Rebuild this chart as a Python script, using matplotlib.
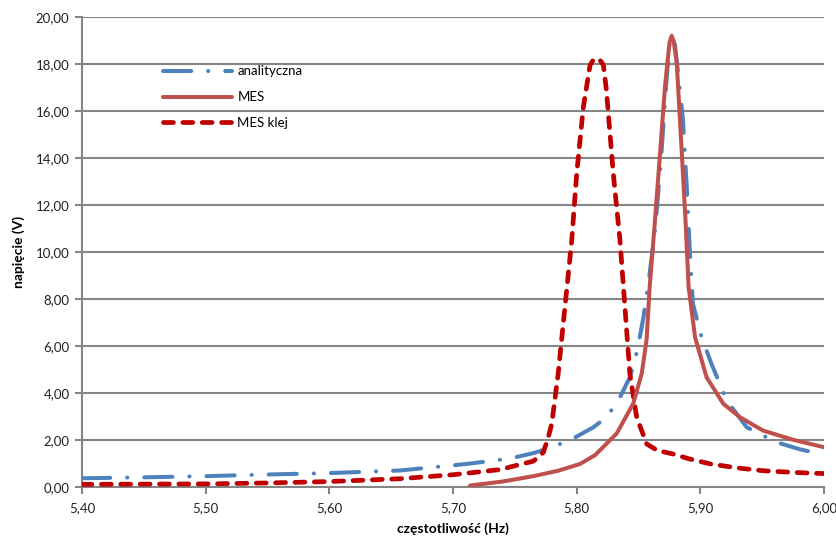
import matplotlib
matplotlib.use("Agg")
import matplotlib.pyplot as plt
from matplotlib.ticker import FuncFormatter

# ---- data ----
x_anal = [5.40, 5.45, 5.50, 5.55, 5.60, 5.657, 5.711, 5.746, 5.765, 5.78, 5.797,
          5.8135, 5.824, 5.8337, 5.843, 5.847, 5.85, 5.854, 5.859, 5.8633, 5.868,
          5.8725, 5.875, 5.8772, 5.8795, 5.882, 5.886, 5.889, 5.8916, 5.894, 5.901,
          5.909, 5.9213, 5.9375, 5.9617, 5.98, 6.00]
y_anal = [0.36, 0.40, 0.45, 0.52, 0.58, 0.69, 0.97, 1.20, 1.43, 1.68, 2.05,
          2.53, 2.96, 3.67, 4.66, 5.37, 6.08, 7.22, 9.08, 10.9, 13.8,
          17.2, 18.8, 19.2, 18.8, 17.6, 15.6, 12.76, 9.92, 7.79, 6.37,
          5.23, 3.67, 2.53, 1.89, 1.60, 1.36]

x_mes = [5.7137, 5.74, 5.765, 5.785, 5.8027, 5.815, 5.8324, 5.8458, 5.8526,
         5.8566, 5.859, 5.8633, 5.8674, 5.8714, 5.8733, 5.8752, 5.8768, 5.8785,
         5.8809, 5.882, 5.885, 5.888, 5.8905, 5.8957, 5.905, 5.9186, 5.932,
         5.9507, 5.975, 6.00]
y_mes = [0.05, 0.22, 0.45, 0.68, 0.97, 1.35, 2.27, 3.55, 4.82,
         6.30, 8.50, 11.34, 14.19, 17.03, 18.03, 18.95, 19.2, 18.95,
         18.03, 17.03, 14.19, 11.34, 8.50, 6.37, 4.66, 3.53, 2.96,
         2.39, 2.00, 1.68]

x_klej = [5.40, 5.45, 5.50, 5.55, 5.60, 5.657, 5.70, 5.738, 5.765, 5.773, 5.777,
          5.7798, 5.785, 5.7905, 5.796, 5.80, 5.8054, 5.8108, 5.8135, 5.8162,
          5.819, 5.8216, 5.824, 5.8296, 5.835, 5.839, 5.843, 5.8485, 5.8566,
          5.865, 5.878, 5.89, 5.908, 5.93, 5.951, 5.975, 5.994, 6.00]
y_klej = [0.10, 0.11, 0.12, 0.16, 0.22, 0.34, 0.51, 0.73, 1.09, 1.46, 2.10,
          2.67, 4.80, 7.65, 10.49, 13.33, 16.17, 17.95, 18.18, 18.24,
          18.15, 17.95, 16.9, 13.33, 10.49, 7.65, 4.80, 2.96, 1.82,
          1.55, 1.39, 1.20, 0.97, 0.80, 0.68, 0.61, 0.57, 0.56]

labels = ["analityczna", "MES", "MES klej"]
x_ticks = [5.40, 5.50, 5.60, 5.70, 5.80, 5.90, 6.00]
y_ticks = [0, 2, 4, 6, 8, 10, 12, 14, 16, 18, 20]

plt.rcParams['font.family'] = ['Lato', 'DejaVu Sans']

fig = plt.figure(figsize=(8.37, 5.39), dpi=100)
ax = fig.add_axes([0.098, 0.097, 0.8865, 0.8715])

grey = "#868686"
ax.set_xlim(5.40, 6.00)
ax.set_ylim(0, 20)
ax.set_xticks(x_ticks)
ax.set_yticks(y_ticks)
ax.yaxis.grid(True, color=grey, linewidth=1.5, zorder=0)
ax.set_axisbelow(True)

for s in ["top", "right"]:
    ax.spines[s].set_visible(False)
for s in ["left", "bottom"]:
    ax.spines[s].set_color(grey)
    ax.spines[s].set_linewidth(1.5)
ax.tick_params(axis="both", direction="out", length=5, width=1.5, color=grey,
               labelsize=9.5, labelcolor="#222222")
ax.tick_params(axis="x", pad=6)
ax.tick_params(axis="y", pad=4)

fmt = FuncFormatter(lambda v, p: f"{v:.2f}".replace(".", ","))
ax.xaxis.set_major_formatter(fmt)
ax.yaxis.set_major_formatter(fmt)

l1, = ax.plot(x_anal, y_anal, color="#4F81BD", linewidth=2.9,
              dashes=(7.0, 4.2, 0.05, 4.2), dash_capstyle="round",
              solid_joinstyle="round", label=labels[0], zorder=3)
l2, = ax.plot(x_mes, y_mes, color="#C0504D", linewidth=2.9,
              solid_capstyle="round", solid_joinstyle="round",
              label=labels[1], zorder=4)
l3, = ax.plot(x_klej, y_klej, color="#C00000", linewidth=3.4,
              dashes=(2.1, 2.0), dash_capstyle="round",
              dash_joinstyle="round", label=labels[2], zorder=3)

ax.set_xlabel("częstotliwość (Hz)", fontsize=10, fontweight="bold", labelpad=6)
ax.set_ylabel("napięcie (V)", fontsize=10, fontweight="bold", labelpad=8)

leg = ax.legend(handles=[l1, l2, l3], loc="upper left",
                bbox_to_anchor=(0.109, 0.897), frameon=False, fontsize=9.5,
                handlelength=5.2, handletextpad=0.45, labelspacing=1.05,
                borderpad=0, borderaxespad=0)

fig.savefig("out.png", dpi=100)
